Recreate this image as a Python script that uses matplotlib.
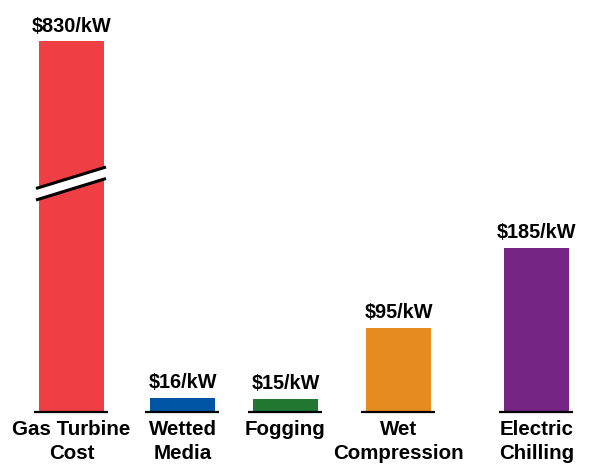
import matplotlib.pyplot as plt
from matplotlib.patches import Polygon

plt.rcParams['font.family'] = ['Liberation Sans', 'DejaVu Sans']
plt.rcParams['font.weight'] = 'bold'

categories = ['Gas Turbine\nCost', 'Wetted\nMedia', 'Fogging', 'Wet\nCompression', 'Electric\nChilling']
costs = [830, 16, 15, 95, 185]
colors = ['#EF3F44', '#0055A4', '#227833', '#E68B1F', '#742484']

# layout (x in pixel-like units, y in $/kW)
x_pos = [71.5, 182.5, 285.5, 398.5, 536.5]
bar_w = 65
cap = 418          # bars taller than this get a break
px_per_unit = 164 / 185.0

fig = plt.figure(figsize=(5.93, 4.69), dpi=100)
ax = fig.add_axes([0, 57 / 469, 1, 412 / 469])
ax.set_xlim(0, 593)
ax.set_ylim(0, 412 / px_per_unit)
ax.axis('off')

for x, v, c, name in zip(x_pos, costs, colors, categories):
    h = min(v, cap)
    ax.bar(x, h, width=bar_w, color=c, zorder=2)
    ax.plot([x - bar_w / 2 - 5, x + bar_w / 2 + 4], [0, 0], color='black', lw=1.6,
            solid_capstyle='butt', zorder=3, clip_on=False)
    ax.annotate(f'${v}/kW', (x, h), xytext=(0, 4), textcoords='offset points',
                ha='center', va='bottom', fontsize=14.3, fontweight='bold')
    ax.annotate(name, (x, 0), xytext=(0, -6), textcoords='offset points',
                ha='center', va='top', fontsize=14.8, fontweight='bold',
                linespacing=1.32, annotation_clip=False)

# break marks on the truncated bar
def to_y(py):
    return (412 - py) / px_per_unit

for x, v in zip(x_pos, costs):
    if v <= cap:
        continue
    x0, x1 = x - bar_w / 2 - 3, x + bar_w / 2 + 2
    upper = [to_y(188.5), to_y(167)]
    lower = [to_y(200), to_y(178.5)]
    band = Polygon([[x0, upper[0]], [x1, upper[1]], [x1, lower[1]], [x0, lower[0]]],
                   closed=True, facecolor='white', edgecolor='none', zorder=4)
    ax.add_patch(band)
    ax.plot([x0, x1], upper, color='black', lw=2.2, zorder=5, solid_capstyle='butt')
    ax.plot([x0, x1], lower, color='black', lw=2.2, zorder=5, solid_capstyle='butt')

fig.savefig('out.png', dpi=100)
